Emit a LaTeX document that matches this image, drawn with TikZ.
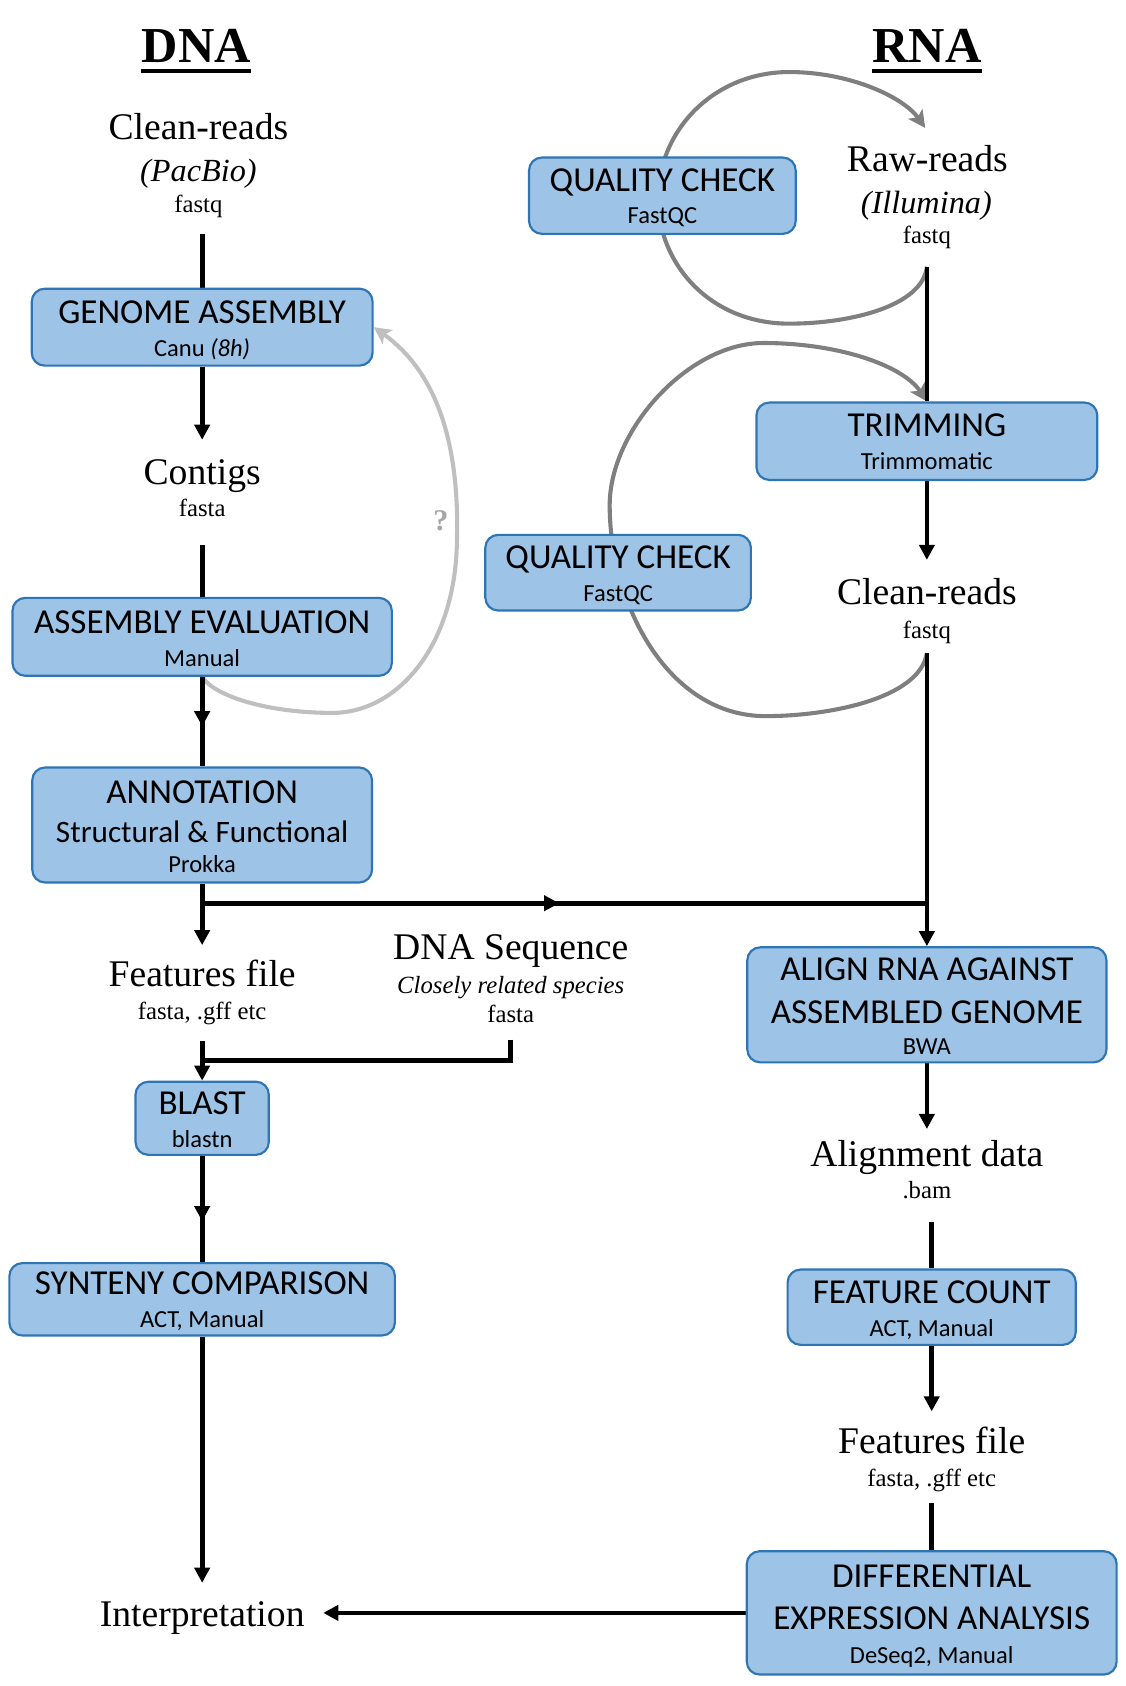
\documentclass[tikz,border=0pt]{standalone}
\usepackage{fontspec}
\setmainfont{Liberation Serif}
\newfontfamily\calibrifont{Carlito}
\usetikzlibrary{arrows.meta,decorations.markings}
\definecolor{boxfill}{HTML}{9DC3E6}
\definecolor{boxline}{HTML}{2E75B6}
\definecolor{loopgray}{HTML}{7F7F7F}
\definecolor{pale}{HTML}{BFBFBF}
\definecolor{qgray}{HTML}{A6A6A6}
\pgfdeclarelayer{bg}
\pgfsetlayers{bg,main}
\begin{document}
\begin{tikzpicture}[x=0.5pt,y=-0.5pt,
  pbox/.style={draw=boxline, fill=boxfill, line width=1pt, rounded corners=6pt, inner sep=0pt},
  txt/.style={anchor=base, inner sep=0pt},
  lblbig/.style={txt, font=\fontsize{17.5}{21}\selectfont},
  lblmed/.style={txt, font=\fontsize{15}{18}\selectfont\itshape},
  lblsmall/.style={txt, font=\fontsize{11.5}{14}\selectfont},
  lbltitle/.style={txt, font=\fontsize{23.4}{28}\selectfont\bfseries},
  btitle/.style={txt, font=\calibrifont\fontsize{16.3}{19}\selectfont},
  bmid/.style={txt, font=\calibrifont\fontsize{14.5}{17}\selectfont},
  bsub/.style={txt, font=\calibrifont\fontsize{11.4}{14}\selectfont},
  conn/.style={line width=2.2pt, black},
  arr/.style={conn, -{Triangle[length=7pt,width=7pt]}},
  midarr/.style={conn, postaction={decorate, decoration={markings, mark=at position #1 with {\arrow{Triangle[length=7pt,width=7pt]}}}}},
  grayloop/.style={line width=1.9pt, draw=loopgray, -{Stealth[length=8pt,width=8pt,inset=2pt]}},
  paleloop/.style={line width=1.9pt, draw=pale, -{Stealth[length=8pt,width=8pt,inset=2pt]}},
]
\useasboundingbox (0,0) rectangle (1047,1568);

% ---------- titles
\node[lbltitle] (dnaT) at (182.5,58.5) {DNA};
\node[lbltitle] (rnaT) at (862,58.5) {RNA};

% ---------- DNA column labels
\node[lblbig]   (cr1a) at (184.5,130) {Clean-reads};
\node[lblmed]   (cr1b) at (184.5,169) {(PacBio)};
\node[lblsmall] (cr1c) at (184.5,198) {fastq};
\node[lblbig]   (ctg)  at (188,451) {Contigs};
\node[lblsmall] (ctgf) at (188,480) {fasta};
\node[lblbig]   (ff1)  at (188,917.4) {Features file};
\node[lblsmall] (ff1f) at (188,948.4) {fasta, .gff etc};
\node[lblbig]   (dseq) at (475,892.6) {DNA Sequence};
\node[txt, font=\fontsize{11.5}{14}\selectfont\itshape] (dseqs) at (475,923.6) {Closely related species};
\node[lblsmall] (dseqf) at (475,950.9) {fasta};
\node[lblbig]   (interp) at (188,1512.5) {Interpretation};
\node[txt, font=\fontsize{14}{16}\selectfont\bfseries, text=qgray] (qm) at (410,493) {?};

% ---------- RNA column labels
\node[lblbig]   (rr)   at (862.5,159.6) {Raw-reads};
\node[lblmed]   (rri)  at (861.5,198.4) {(Illumina)};
\node[lblsmall] (rrf)  at (862,226.9) {fastq};
\node[lblbig]   (cr2)  at (862,562.5) {Clean-reads};
\node[lblsmall] (cr2f) at (862,593.5) {fastq};
\node[lblbig]   (ad)   at (862,1084.8) {Alignment data};
\node[lblsmall] (adf)  at (862,1114.8) {.bam};
\node[lblbig]   (ff2)  at (866.5,1351.3) {Features file};
\node[lblsmall] (ff2f) at (866.5,1382.3) {fasta, .gff etc};

% ---------- boxes
\node[pbox, minimum width=124pt, minimum height=35.5pt] (q1) at (616,182) {};
\node[btitle] (q1a) at (616,178.2) {QUALITY CHECK};
\node[bsub]   (q1b) at (616,208.3) {FastQC};

\node[pbox, minimum width=158.5pt, minimum height=35.75pt] (ga) at (188,304.25) {};
\node[btitle] (gaa) at (188,300.6) {GENOME ASSEMBLY};
\node[bsub]   (gab) at (188,331.6) {Canu \textit{(8h)}};

\node[pbox, minimum width=158.5pt, minimum height=36pt] (tr) at (862,410.35) {};
\node[btitle] (tra) at (862,406) {TRIMMING};
\node[bsub]   (trb) at (862,437) {Trimmomatic};

\node[pbox, minimum width=123.5pt, minimum height=35.2pt] (q2) at (574.85,532.6) {};
\node[btitle] (q2a) at (574.85,528.4) {QUALITY CHECK};
\node[bsub]   (q2b) at (574.85,559.4) {FastQC};

\node[pbox, minimum width=176.4pt, minimum height=36.25pt] (ae) at (188,592.25) {};
\node[btitle] (aea) at (188,589) {ASSEMBLY EVALUATION};
\node[bsub]   (aeb) at (188,620) {Manual};

\node[pbox, minimum width=158pt, minimum height=53.5pt] (an) at (188,767.25) {};
\node[btitle] (ana) at (188,746.8) {ANNOTATION};
\node[bmid]   (anb) at (188,783.5) {Structural \& Functional};
\node[bsub]   (anc) at (188,811.8) {Prokka};

\node[pbox, minimum width=167pt, minimum height=53.5pt] (al) at (862,934.5) {};
\node[btitle] (ala) at (862,912) {ALIGN RNA AGAINST};
\node[btitle] (alb) at (862,951.5) {ASSEMBLED GENOME};
\node[bsub]   (alc) at (862,981) {BWA};

\node[pbox, minimum width=62pt, minimum height=34pt] (bl) at (188,1040) {};
\node[btitle] (bla) at (188,1036.7) {BLAST};
\node[bsub]   (blb) at (188,1067.6) {blastn};

\node[pbox, minimum width=179.25pt, minimum height=33.65pt] (sy) at (188,1208.35) {};
\node[btitle] (sya) at (188,1204) {SYNTENY COMPARISON};
\node[bsub]   (syb) at (188,1235) {ACT, Manual};

\node[pbox, minimum width=134pt, minimum height=35pt] (fc) at (866.5,1215.7) {};
\node[btitle] (fca) at (866.5,1211.8) {FEATURE COUNT};
\node[bsub]   (fcb) at (866.5,1242.8) {ACT, Manual};

\node[pbox, minimum width=172pt, minimum height=57.35pt] (de) at (866.5,1500) {};
\node[btitle] (dea) at (866.5,1476.8) {DIFFERENTIAL};
\node[btitle] (deb) at (866.5,1515.6) {EXPRESSION ANALYSIS};
\node[bsub]   (dec) at (866.5,1546.6) {DeSeq2, Manual};

% ---------- coordinates
\coordinate (jl) at (188,840);
\coordinate (jr) at (862,840);
\coordinate (jb) at (188,986.5);
\coordinate (rrs) at ([yshift=-10.55pt]rrf.base);
\coordinate (crs) at ([yshift=-7pt]cr2f.base);

\begin{pgfonlayer}{bg}
% title underlines
\draw[line width=1.6pt] ([yshift=-3.75pt]dnaT.base west) -- ([yshift=-3.75pt]dnaT.base east);
\draw[line width=1.6pt] ([yshift=-3.75pt]rnaT.base west) -- ([yshift=-3.75pt]rnaT.base east);

% gray loops
\draw[grayloop] (rrs) .. controls (858,285) and (790,301) .. (734,301)
   .. controls (660,301) and (612,245) .. (612,185)
   .. controls (612,120) and (665,67) .. (734,67)
   .. controls (790,67) and (840,90) .. ([xshift=-1pt,yshift=20.3pt]rr.base);
\draw[grayloop] (crs) .. controls (855,650) and (770,666) .. (712,666)
   .. controls (620,666) and (567,560) .. (567,470)
   .. controls (567,400) and (640,319) .. (710,319)
   .. controls (780,319) and (840,340) .. (tr.north);
\draw[paleloop] (ae.south) .. controls (200,648) and (250,663) .. (309,663)
   .. controls (370,663) and (425,600) .. (425,499)
   .. controls (427,410) and (405,345) .. (ga.east);

% DNA connectors
\draw[conn] ([xshift=1.75pt,yshift=-10pt]cr1c.base) -- (ga.north);
\draw[arr] (ga.south) -- ([yshift=21pt]ctg.base);
\draw[conn] ([yshift=-13.5pt]ctgf.base) -- (ae.north);
\draw[midarr=0.552] (ae.south) -- (an.north);
\draw[arr] (an.south) -- ([yshift=19.2pt]ff1.base);
\draw[midarr=0.4926] (jl) -- (jr);
\draw[arr] ([yshift=-10pt]ff1f.base) -- (bl.north);
\draw[conn] ([yshift=-8pt]dseqf.base) |- (jb);
\draw[midarr=0.615] (bl.south) -- (sy.north);
\draw[arr] (sy.south) -- ([yshift=20.25pt]interp.base);

% RNA connectors
\draw[conn] (rrs) -- (tr.north);
\draw[arr] (tr.south) -- ([yshift=20.9pt]cr2.base);
\draw[arr] (crs) -- (al.north);
\draw[arr] (al.south) -- ([yshift=17.4pt]ad.base);
\draw[conn] ([xshift=2.25pt,yshift=-10.6pt]adf.base) -- (fc.north);
\draw[arr] (fc.south) -- ([yshift=19.35pt]ff2.base);
\draw[conn] ([yshift=-7.75pt]ff2f.base) -- (de.north);
\draw[arr, shorten >=8.5pt] (de.west) -- (de.west -| interp.east);
\end{pgfonlayer}
\end{tikzpicture}
\end{document}
